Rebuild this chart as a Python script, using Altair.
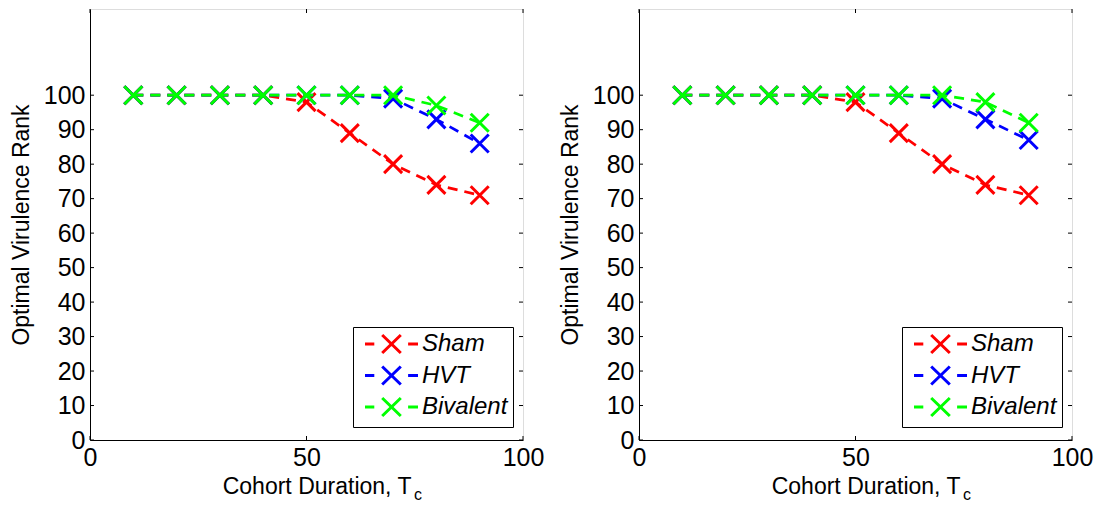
import altair as alt
import pandas as pd

# ---- data ----
durations = [10, 20, 30, 40, 50, 60, 70, 80, 90]
series = ["Sham", "HVT", "Bivalent"]
colors = ["#FF0000", "#0000FF", "#00FF00"]

left_sham = [100, 100, 100, 100, 98, 89, 80, 74, 71]
left_hvt = [100, 100, 100, 100, 100, 100, 99, 93, 86]
left_biv = [100, 100, 100, 100, 100, 100, 100, 97, 92]

right_sham = [100, 100, 100, 100, 98, 89, 80, 74, 71]
right_hvt = [100, 100, 100, 100, 100, 100, 99, 93, 87]
right_biv = [100, 100, 100, 100, 100, 100, 100, 98, 92]

x_ticks = [0, 50, 100]
y_ticks = [0, 10, 20, 30, 40, 50, 60, 70, 80, 90, 100]

W, H = 433, 431
FONT = "Liberation Sans"
X_PATH = "M-1,-1L1,1M-1,1L1,-1"
LEG_PATH = "M-2.65,0L-1.72,0M1.66,0L2.65,0M-0.93,-0.9L0.93,0.9M-0.93,0.9L0.93,-0.9"


def panel(sham, hvt, biv):
    df = pd.DataFrame({
        "x": durations * 3,
        "y": sham + hvt + biv,
        "s": ["Sham"] * 9 + ["HVT"] * 9 + ["Bivalent"] * 9,
    })
    xs = alt.Scale(domain=[0, 100], nice=False, zero=False)
    ys = alt.Scale(domain=[0, 125], nice=False)
    xenc = alt.X("x:Q", scale=xs, axis=alt.Axis(
        values=x_ticks, title="Cohort Duration, T", ticks=False, grid=False,
        labelFontSize=25, labelFont=FONT, labelColor="black", labelPadding=5,
        titleFontSize=23, titleFont=FONT, titleFontWeight="normal", titleColor="black",
        titleX=321, titleY=53, titleAlign="right", titleBaseline="alphabetic",
        domainColor="black", labelFlush=False))
    yenc = alt.Y("y:Q", scale=ys, axis=alt.Axis(
        values=y_ticks, title="Optimal Virulence Rank", ticks=False, grid=False,
        labelFontSize=25, labelFont=FONT, labelColor="black", labelPadding=5,
        titleFontSize=23, titleFont=FONT, titleFontWeight="normal", titleColor="black",
        titlePadding=10, domainColor="black", labelFlush=False))
    color = alt.Color("s:N", scale=alt.Scale(domain=series, range=colors),
                      legend=alt.Legend(
                          title=None, orient="none", legendX=263, legendY=318,
                          symbolType=LEG_PATH, symbolSize=400, symbolStrokeWidth=3,
                          symbolFillColor="transparent", symbolOffset=21.5,
                          labelOffset=18.5, labelFont=FONT, labelFontSize=24,
                          labelFontStyle="italic", labelColor="black",
                          strokeColor="black", fillColor="white", padding=5,
                          rowPadding=1.5, labelLimit=300))
    layers = []
    for s in series:
        b = alt.Chart(df).transform_filter(alt.datum.s == s)
        layers.append(b.mark_line(strokeWidth=2.7, strokeDash=[10, 7]).encode(
            x=xenc, y=yenc, color=color))
        layers.append(b.mark_point(shape=X_PATH, size=324, filled=False,
                                   strokeWidth=3, opacity=1).encode(
            x=xenc, y=yenc, color=color))
    # inward tick marks
    yt = alt.Chart(pd.DataFrame({"v": y_ticks}))
    xt = alt.Chart(pd.DataFrame({"v": x_ticks}))
    tl = yt.mark_rule(color="black", strokeWidth=1).encode(
        y=alt.Y("v:Q", scale=ys), x=alt.value(0), x2=alt.value(4))
    tr = yt.mark_rule(color="black", strokeWidth=1).encode(
        y=alt.Y("v:Q", scale=ys), x=alt.value(W - 4), x2=alt.value(W))
    tb = xt.mark_rule(color="black", strokeWidth=1).encode(
        x=alt.X("v:Q", scale=xs), y=alt.value(H - 4), y2=alt.value(H))
    tt = xt.mark_rule(color="black", strokeWidth=1).encode(
        x=alt.X("v:Q", scale=xs), y=alt.value(0), y2=alt.value(4))
    sub = alt.Chart(pd.DataFrame({"t": ["c"]})).mark_text(
        font=FONT, fontSize=16, color="black", align="left", baseline="alphabetic"
    ).encode(text="t:N", x=alt.value(324), y=alt.value(H + 60))
    return alt.layer(tl, tr, tb, tt, *layers, sub).properties(width=W, height=H)


left = panel(left_sham, left_hvt, left_biv)
right = panel(right_sham, right_hvt, right_biv)

chart = alt.hconcat(left, right, spacing=13).resolve_scale(
    color="independent").resolve_legend(color="independent").configure_view(
    stroke="black", strokeWidth=1).configure(
    padding={"left": 1, "top": 0, "right": 0, "bottom": 0}, background="white")

chart.save("out.html", embed_options={"renderer": "svg", "actions": False})
